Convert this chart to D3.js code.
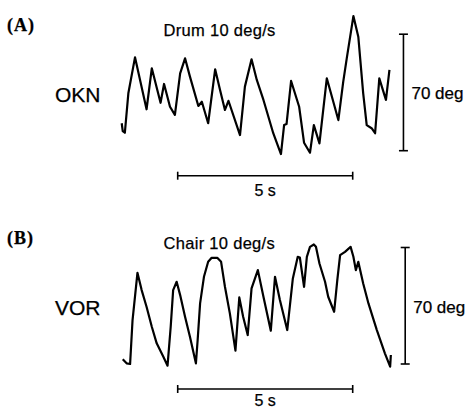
<!DOCTYPE html>
<html lang="en">
<head>
    <meta charset="UTF-8">
    <title>OKN and VOR traces</title>
    <script src="https://d3js.org/d3.v7.min.js"></script>
    <style>
        body {
            margin: 0;
            background: #fff;
            font-family: "Liberation Sans", Arial, sans-serif;
        }

        text {
            stroke: #000;
            stroke-width: 0.25px;
        }

        .trace {
            fill: none;
            stroke: #000;
            stroke-width: 2.2px;
            stroke-linejoin: round;
        }

        .bar {
            stroke: #000;
            stroke-width: 1.6px;
        }

        .panel-label {
            font-family: "Liberation Serif", "Times New Roman", serif;
            font-weight: bold;
            font-size: 18px;
            letter-spacing: 1px;
        }
    </style>
</head>
<body>
    <div id="chart"></div>
    <script>
        // time (s) and eye position (deg)
        const okmTime = [0, 0.03, 0.09, 0.19, 0.38, 0.71, 0.86, 1.11, 1.21, 1.38, 1.52, 1.67, 1.81, 1.95, 2.19, 2.29, 2.47, 2.67, 2.81, 2.95, 3.05, 3.38, 3.52, 3.71, 3.86, 4.05, 4.33, 4.55, 4.64, 4.71, 4.84, 5.07, 5.21, 5.38, 5.49, 5.65, 5.86, 6.19, 6.33, 6.43, 6.62, 6.76, 6.90, 7.00, 7.14, 7.24, 7.36, 7.55, 7.65];
        const okmDeg = [16.5, 11.8, 10.8, 34.5, 56.1, 24.9, 49.5, 28.8, 40.1, 26.4, 21.5, 46.5, 55.5, 44.5, 26.9, 29.4, 16.5, 48.9, 36.5, 24.5, 30.0, 9.4, 38.5, 54.9, 42.5, 30.5, 10.5, -2.0, 15.4, 16.0, 41.9, 26.4, 4.8, -1.2, 15.4, 4.4, 43.5, 18.4, 41.5, 55.5, 80.9, 68.5, 34.5, 15.4, 13.5, 10.5, 43.5, 30.5, 48.5];

        const vorTime = [0.03, 0.14, 0.24, 0.31, 0.45, 0.57, 0.71, 0.86, 1.00, 1.19, 1.31, 1.40, 1.47, 1.57, 1.67, 1.81, 1.95, 2.12, 2.17, 2.24, 2.35, 2.47, 2.57, 2.73, 2.84, 2.95, 3.09, 3.25, 3.36, 3.47, 3.60, 3.71, 3.89, 4.05, 4.26, 4.38, 4.52, 4.73, 4.89, 5.03, 5.09, 5.21, 5.29, 5.38, 5.49, 5.55, 5.65, 5.81, 5.90, 6.07, 6.16, 6.24, 6.38, 6.54, 6.62, 6.69, 6.76, 6.90, 7.05, 7.29, 7.52, 7.67, 7.69];
        const vorDeg = [2.8, 0.4, 0, 26.4, 54.8, 44.4, 34.4, 22.4, 12.4, 4.4, -1.0, 22.4, 44.4, 49.4, 41.4, 28.4, 16.4, 0.4, 14.4, 36.4, 52.4, 61.4, 63.8, 63.8, 61.4, 46.4, 30.4, 8.0, 40.0, 28.4, 17.4, 45.4, 56.4, 40.4, 20.0, 52.4, 38.4, 20.4, 51.4, 64.4, 64.0, 46.4, 64.4, 70.4, 71.8, 70.4, 60.4, 49.4, 40.4, 31.4, 50.4, 65.4, 67.4, 70.4, 64.4, 56.4, 61.4, 48.4, 36.4, 20.4, 6.4, -1.6, 5.4];

        const panelLetters = ["(A)", "(B)"];
        const traceNames = ["OKN", "VOR"];
        const stimulus = ["Drum 10 deg/s", "Chair 10 deg/s"];

        // scale bars: 5 s and 70 deg
        const timeBar = [1.6, 6.6];
        const degBar = [0, 70];
        const degBarAt = [8.05, 8.1];

        const width = 467, height = 410;
        const panelTop = [0, 213.3];
        const labelGap = [20, 17.5];

        const svg = d3.select("#chart")
            .append("svg")
            .attr("width", width)
            .attr("height", height);

        const x = d3.scaleLinear().domain([0, 8]).range([121.7, 401.7]);
        const y = d3.scaleLinear().domain([0, 70]).range([150.7, 34.2]);

        const line = d3.line()
            .x(d => x(d[0]))
            .y(d => y(d[1]));

        const traces = [
            d3.zip(okmTime, okmDeg),
            d3.zip(vorTime, vorDeg)
        ];

        traces.forEach((pts, i) => {
            const g = svg.append("g").attr("transform", `translate(0,${panelTop[i]})`);

            g.append("path").attr("class", "trace").attr("d", line(pts));

            // panel letter, name and stimulus
            g.append("text").attr("class", "panel-label")
                .attr("x", 7).attr("y", 30.5)
                .text(panelLetters[i]);
            g.append("text")
                .attr("x", 55).attr("y", 102)
                .style("font-size", "21px")
                .text(traceNames[i]);
            g.append("text")
                .attr("x", 163.5).attr("y", 35.5)
                .style("font-size", "16.5px")
                .style("letter-spacing", "0.3px")
                .text(stimulus[i]);

            // time scale bar
            const ty = y(0) + 25;
            g.append("line").attr("class", "bar")
                .attr("x1", x(timeBar[0])).attr("x2", x(timeBar[1]))
                .attr("y1", ty).attr("y2", ty);
            timeBar.forEach(t => {
                g.append("line").attr("class", "bar")
                    .attr("x1", x(t)).attr("x2", x(t))
                    .attr("y1", ty - 4).attr("y2", ty + 4);
            });
            g.append("text")
                .attr("x", x((timeBar[0] + timeBar[1]) / 2)).attr("y", ty + labelGap[i])
                .attr("text-anchor", "middle")
                .style("font-size", "16px")
                .text("5 s");

            // degree scale bar
            const bx = x(degBarAt[i]);
            g.append("line").attr("class", "bar")
                .attr("x1", bx).attr("x2", bx)
                .attr("y1", y(degBar[0])).attr("y2", y(degBar[1]));
            degBar.forEach(v => {
                g.append("line").attr("class", "bar")
                    .attr("x1", bx - 4.5).attr("x2", bx + 4.5)
                    .attr("y1", y(v)).attr("y2", y(v));
            });
            g.append("text")
                .attr("x", bx + 8).attr("y", y(35) + 7)
                .style("font-size", "17px")
                .text("70 deg");
        });
    </script>
</body>
</html>
